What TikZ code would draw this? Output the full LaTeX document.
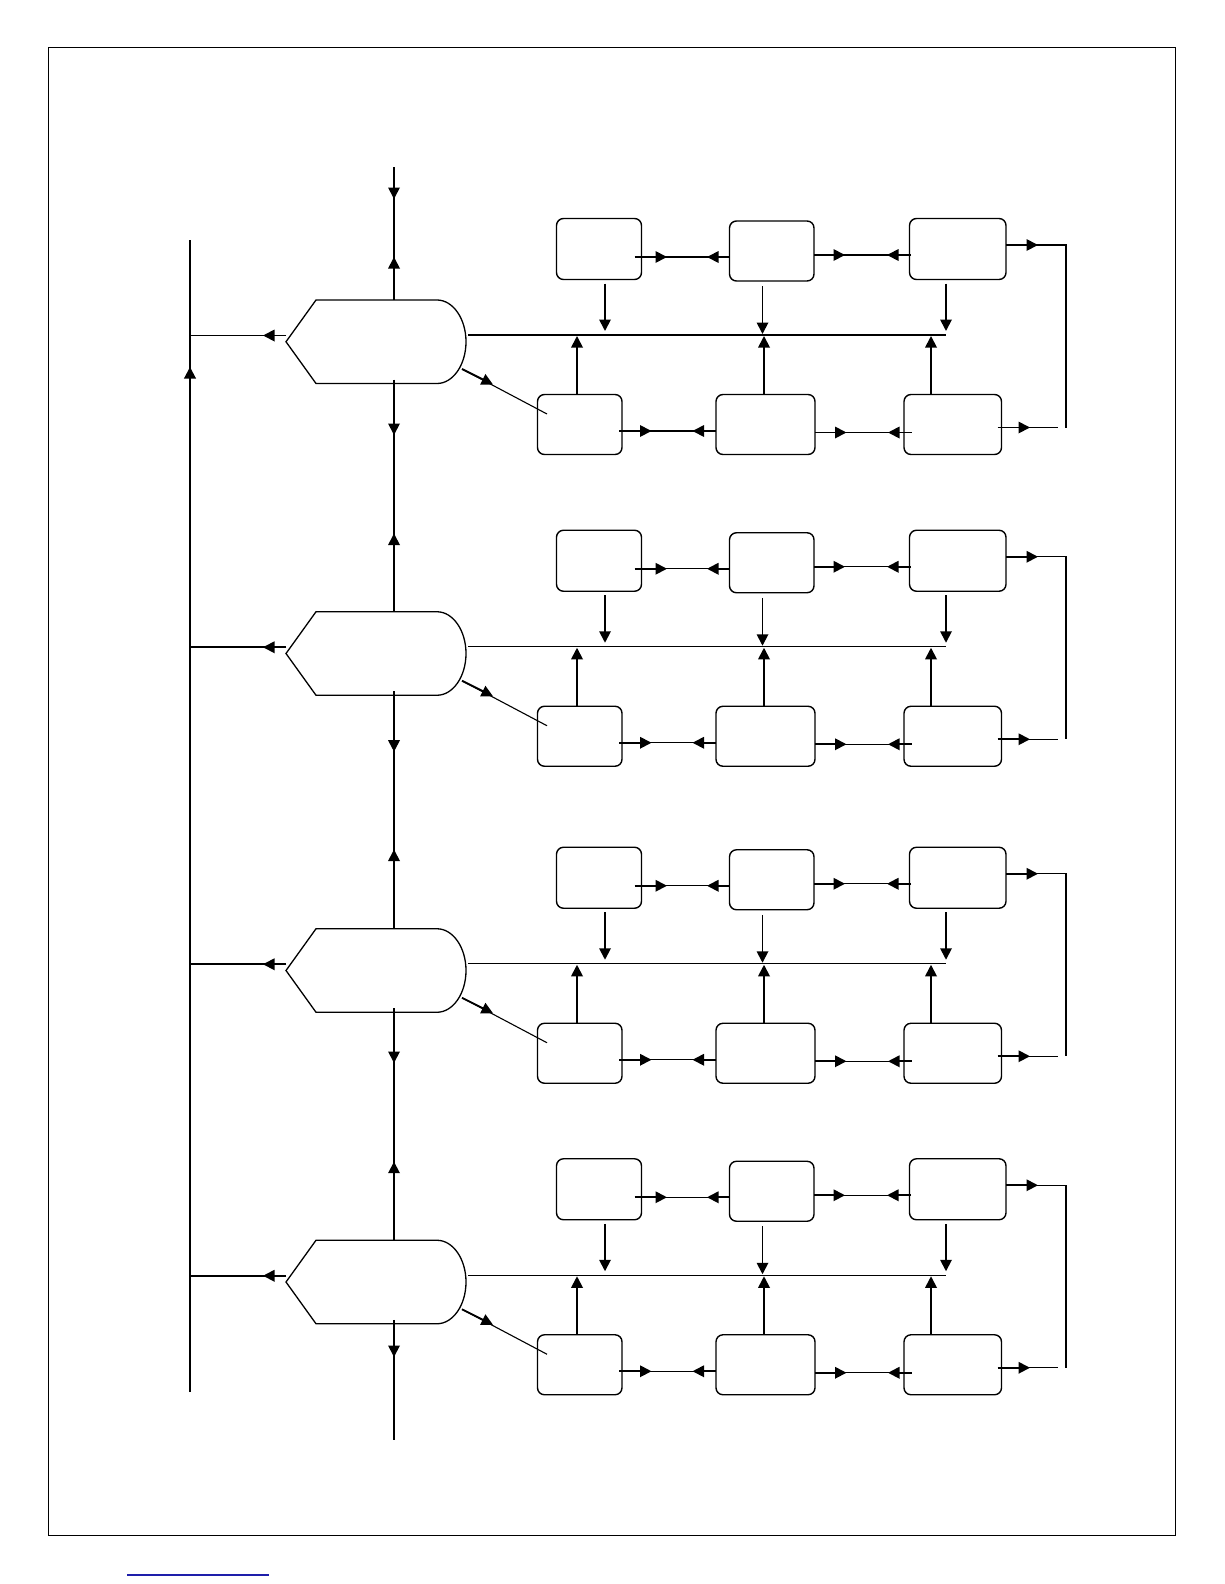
\documentclass[tikz,border=0pt]{standalone}
\usetikzlibrary{arrows.meta,calc}
\definecolor{linkblue}{RGB}{30,30,170}
\tikzset{
  box/.style={draw, line width=1.4pt, rounded corners=7pt, inner sep=0pt, outer sep=0pt},
  hexbox/.style={inner sep=0pt, outer sep=0pt, minimum width=180, minimum height=83.5},
  hexline/.style={line width=1.3pt, line join=miter},
  ln/.style={line width=1.1pt},
  fat/.style={line width=1.8pt},
  stub/.style={line width=1.8pt, -{Triangle[length=11.5pt,width=11.5pt]}},
}
\begin{document}
\begin{tikzpicture}[x=1pt,y=-1pt]
\useasboundingbox (0,0) rectangle (1224,1584);
\draw[line width=1pt] (48,48) rectangle (1175,1535);
\draw[line width=1.2pt, linkblue] (127,1575) -- (269,1575);

% left bus
\coordinate (busTop) at (190,240);
\coordinate (busBot) at (190,1392);
\draw[line width=2pt] (busTop) -- (busBot);
\draw[stub, line width=2pt] (busBot) -- (190,367);

% centre column ends
\coordinate (cTop) at (394,167);
\coordinate (cBot) at (394,1440);

\foreach \i/\dy in {1/0, 2/311.75, 3/628.75, 4/940.25}{
\begin{scope}[shift={(0,\dy)}]
  % hexagon-like shape
  \node[hexbox] (H\i) at (376,341.75) {};
  \draw[hexline] (H\i.west) -- ([xshift=30pt]H\i.north west)
     -- ([xshift=-29pt]H\i.north east) .. controls +(16,0) and +(0,-23) .. (H\i.east)
     .. controls +(0,23) and +(16,0) .. ([xshift=-29pt]H\i.south east)
     -- ([xshift=30pt]H\i.south west) -- cycle;
  % branch to left bus
  \draw[fat] (H\i.west |- 0,335.5) -- (busTop |- 0,335.5);
  \draw[stub] (H\i.west |- 0,335.5) -- ++(-23,0);

  % boxes
  \node[box, minimum width=85, minimum height=61] (A\i) at (599,249) {};
  \node[box, minimum width=84.5, minimum height=60] (B\i) at (771.75,251) {};
  \node[box, minimum width=96.5, minimum height=61] (C\i) at (957.75,249) {};
  \node[box, minimum width=84.5, minimum height=60] (D\i) at (579.75,424.5) {};
  \node[box, minimum width=99, minimum height=60] (E\i) at (765.5,424.5) {};
  \node[box, minimum width=97.5, minimum height=60] (F\i) at (952.75,424.5) {};

  % horizontal bus from the shape
  \draw[ln] ([xshift=2pt]H\i.east |- 0,335) -- (946,335);

  % diagonal to D
  \draw[ln] (462,369) -- ([xshift=9.5pt,yshift=10.5pt]D\i.west);
  \draw[stub] (462,369) -- (493,384.5);

  % top row
  \draw[ln] (A\i.east |- 0,257) -- (B\i.west |- 0,257);
  \draw[stub] ([xshift=-7pt]A\i.east |- 0,257) -- ++(32.5,0);
  \draw[stub] (B\i.west |- 0,257) -- ++(-22.5,0);
  \draw[ln] (B\i.east |- 0,255) -- (C\i.west |- 0,255);
  \draw[stub] (B\i.east |- 0,255) -- ++(31,0);
  \draw[stub] ([xshift=1.5pt]C\i.west |- 0,255) -- ++(-24,0);
  % bottom row
  \draw[ln] (D\i.east |- 0,431) -- (E\i.west |- 0,431);
  \draw[stub] ([xshift=-3pt]D\i.east |- 0,431) -- ++(32.5,0);
  \draw[stub] (E\i.west |- 0,431) -- ++(-23.5,0);
  \draw[ln] (E\i.east |- 0,432.5) -- (F\i.west |- 0,432.5);
  \draw[stub] (E\i.east |- 0,432.5) -- ++(31.5,0);
  \draw[stub] ([xshift=7.5pt]F\i.west |- 0,432.5) -- ++(-23.5,0);
  % right loop
  \coordinate (R\i) at (1066,245);
  \draw[ln] (C\i.east |- R\i) -- (R\i) -- (R\i |- 0,427.5);
  \draw[stub] (C\i.east |- R\i) -- ++(32,0);
  \draw[ln] (F\i.east |- 0,427.5) -- (1058,427.5);
  \draw[stub] ([xshift=-4pt]F\i.east |- 0,427.5) -- ++(32.5,0);
  % verticals to the bus
  \draw[stub] ([xshift=6pt,yshift=-4pt]A\i.south) -- ++(0,47.5);
  \draw[stub] ([xshift=-9.25pt,yshift=-5pt]B\i.south) -- ++(0,48);
  \draw[stub] ([xshift=-11.75pt,yshift=-4pt]C\i.south) -- ++(0,47.5);
  \draw[stub] ([xshift=-2.75pt]D\i.north) -- ++(0,-58.5);
  \draw[stub] ([xshift=-1.5pt]E\i.north) -- ++(0,-58.5);
  \draw[stub] ([xshift=-21.75pt]F\i.north) -- ++(0,-58.5);
\end{scope}
}

% centre column
\draw[ln] (cTop) -- (cTop |- H1.north);
\draw[ln] (cTop |- H1.south) -- (cTop |- H2.north);
\draw[ln] (cTop |- H2.south) -- (cTop |- H3.north);
\draw[ln] (cTop |- H3.south) -- (cTop |- H4.north);
\draw[fat] (cTop |- H4.south) -- (cBot);
\draw[stub] (cTop) -- (394,199);
\draw[stub] (cTop |- H1.north) -- (394,257);
\draw[stub] ([yshift=4pt]cTop |- H1.south) -- (394,435);
\draw[stub] (cTop |- H2.north) -- (394,533.5);
\draw[stub] ([yshift=4pt]cTop |- H2.south) -- (394,751.7);
\draw[stub] (cTop |- H3.north) -- (394,849.5);
\draw[stub] ([yshift=4pt]cTop |- H3.south) -- (394,1063);
\draw[stub] (cTop |- H4.north) -- (394,1161.7);
\draw[stub] ([yshift=4pt]cTop |- H4.south) -- (394,1357);
\end{tikzpicture}
\end{document}
